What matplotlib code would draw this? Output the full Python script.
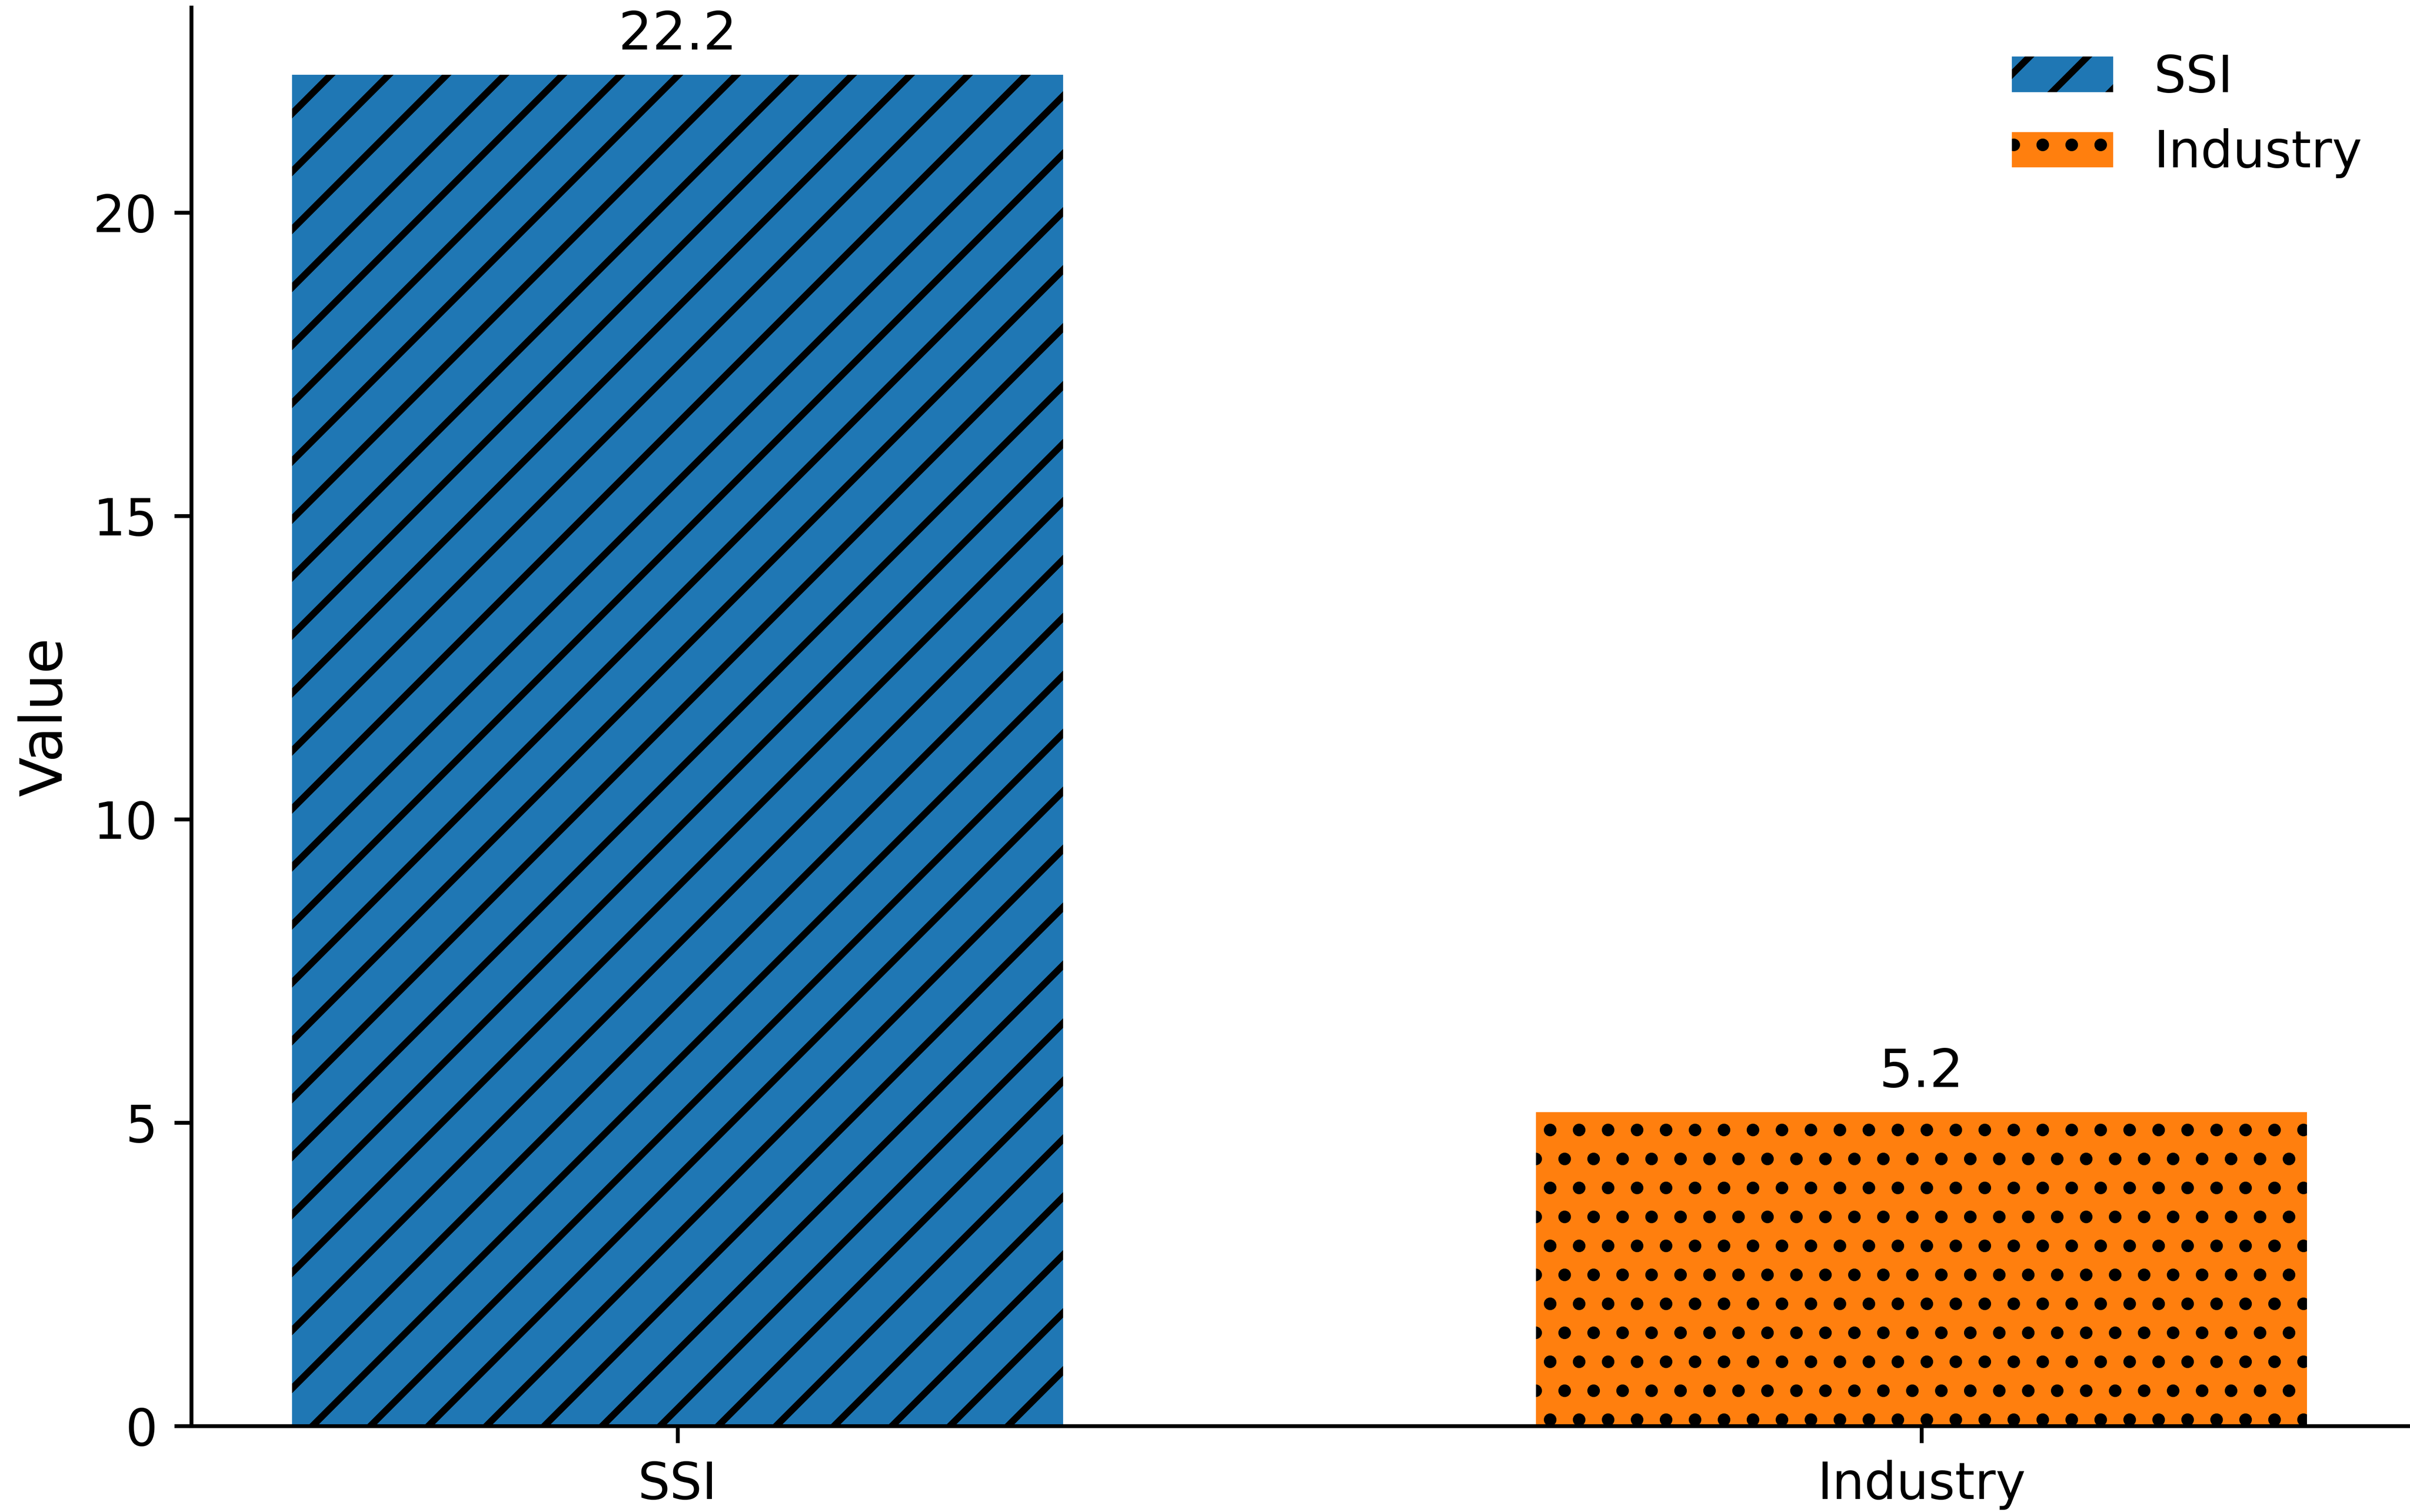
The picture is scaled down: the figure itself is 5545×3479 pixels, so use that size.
import numpy as np
import matplotlib
matplotlib.use('Agg')
import matplotlib.pyplot as plt

plt.rcParams['hatch.linewidth']=1.4

categories=["SSI","Industry"]
values=[22.27,5.17]
value_labels=["22.2","5.2"]
colors=["#1f77b4","#ff7f0e"]
hatches=["//",".."]

W,H,dpi=5545,3479,800
fig=plt.figure(figsize=(W/dpi,H/dpi),dpi=dpi)
ax=fig.add_axes([440/W,198/H,5100/W,3264/H])

x=np.arange(len(categories))
for i in range(len(categories)):
    b=ax.bar(x[i],values[i],width=0.62,color=colors[i],hatch=hatches[i],
             label=categories[i])
    ax.bar_label(b,labels=[value_labels[i]],padding=3,fontsize=11)

ax.set_xticks(x)
ax.set_xticklabels(categories,fontsize=10.5)
ax.tick_params(axis='y',labelsize=10.5)
ax.set_ylabel("Value",fontsize=12)
ax.spines['top'].set_visible(False)
ax.spines['right'].set_visible(False)
ax.legend(loc='upper right',frameon=False,fontsize=10.5)

fig.savefig("out.png",dpi=dpi)
